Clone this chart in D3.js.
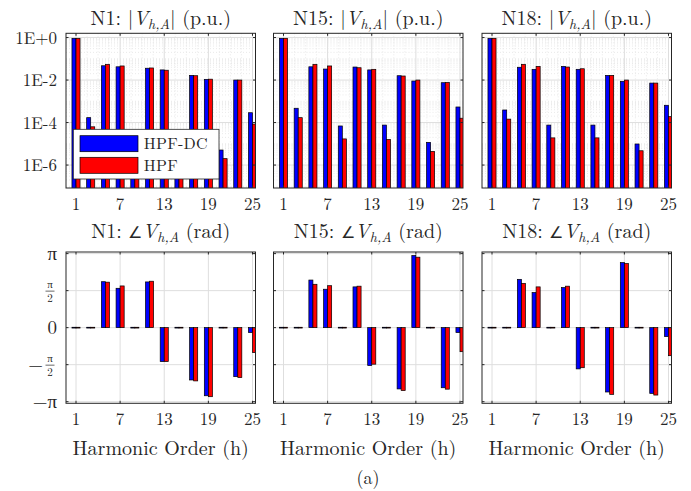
<!DOCTYPE html>
<html><head><meta charset="utf-8">
<script src="https://cdn.jsdelivr.net/npm/d3@7"></script>
<style>
body{margin:0;background:#fff}
svg{display:block}
</style>
</head><body><svg id="c" width="691" height="491"></svg>
<script>
// ---------------- data ----------------
const harmonics = [1,3,5,7,9,11,13,15,17,19,21,23,25];
const xTickValues = [1,7,13,19,25];
const nodes = ["N1","N15","N18"];
const seriesNames = ["HPF-DC","HPF"];
const seriesColors = ["#0000ff","#ff0000"];
const magTickValues = [1,1e-2,1e-4,1e-6];
const magTickLabels = ["1E+0","1E-2","1E-4","1E-6"];
const angTickValues = [Math.PI, Math.PI/2, 0, -Math.PI/2, -Math.PI];
const angTickLabels = [["","π",""],["","π","2"],["","0",""],["−","π","2"],["−","π",""]];

const magN1_DC   = [0.92,1.7e-4,0.047,0.042,3e-5,0.036,0.030,3e-5,0.0166,0.0108,5.1e-6,0.010,2.9e-4];
const magN1_HPF  = [0.92,6.3e-5,0.055,0.046,8e-6,0.037,0.029,8e-6,0.016,0.011,2.0e-6,0.010,8.5e-5];
const magN15_DC  = [0.92,4.7e-4,0.042,0.033,6.9e-5,0.041,0.030,7.6e-5,0.016,0.0090,1.17e-5,0.0075,5.4e-4];
const magN15_HPF = [0.92,1.7e-4,0.055,0.046,1.7e-5,0.038,0.032,1.6e-5,0.0155,0.0100,4.4e-6,0.0077,1.6e-4];
const magN18_DC  = [0.92,3.9e-4,0.040,0.032,7.6e-5,0.044,0.032,7.6e-5,0.0166,0.0087,9.8e-6,0.0072,6.5e-4];
const magN18_HPF = [0.92,1.45e-4,0.055,0.044,1.9e-5,0.041,0.034,1.9e-5,0.0166,0.0100,4.7e-6,0.0072,1.9e-4];

const angN1_DC   = [0,0,1.95,1.67,0,1.94,-1.44,0,-2.22,-2.89,0,-2.08,-0.21];
const angN1_HPF  = [0,0,1.93,1.77,0,1.97,-1.44,0,-2.26,-2.93,0,-2.12,-1.06];
const angN15_DC  = [0,0,2.02,1.63,0,1.73,-1.61,0,-2.60,3.06,0,-2.55,-0.21];
const angN15_HPF = [0,0,1.84,1.78,0,1.76,-1.55,0,-2.67,2.99,0,-2.61,-1.02];
const angN18_DC  = [0,0,2.05,1.49,0,1.70,-1.75,0,-2.73,2.76,0,-2.79,-0.38];
const angN18_HPF = [0,0,1.88,1.73,0,1.76,-1.70,0,-2.83,2.72,0,-2.86,-1.19];

const magData = [[magN1_DC,magN1_HPF],[magN15_DC,magN15_HPF],[magN18_DC,magN18_HPF]];
const angData = [[angN1_DC,angN1_HPF],[angN15_DC,angN15_HPF],[angN18_DC,angN18_HPF]];

// ---------------- layout ----------------
const svg = d3.select("#c");
const FONT = "Latin Modern Roman";
const panelLeft = [66, 273.5, 482];
const panelW = 189.5;
const top1 = 33.3, bot1 = 188;
const top2 = 252, bot2 = 403.3;
const barUnits = 0.55;
const axisColor = "#262626";
const gridColor = "#dedede";

function txt(g){ return g.append("text").attr("font-family",FONT).attr("fill",axisColor); }

function xScale(i){ return d3.scaleLinear().domain([-0.36, 25.41]).range([panelLeft[i], panelLeft[i]+panelW]); }
const yMag = d3.scaleLog().domain([Math.pow(10,-7.08), Math.pow(10,0.2)]).range([bot1, top1]);
const yAng = d3.scaleLinear().domain([-3.21, 3.21]).range([bot2, top2]);

function title(g, cx, cy, node, kind){
  const t = txt(g).attr("x",cx).attr("y",cy).attr("text-anchor","middle").attr("font-size",20);
  if(kind==="mag"){
    t.append("tspan").text(node+": |");
  } else {
    t.append("tspan").text(node+": ");
    t.append("tspan").attr("font-size",16).text("∠");
  }
  t.append("tspan").attr("font-style","italic").attr("font-size",20).text("V");
  t.append("tspan").attr("font-style","italic").attr("font-size",14).attr("dy",4).text("h,A");
  t.append("tspan").attr("dy",-4).attr("font-size",20).text(kind==="mag" ? "| (p.u.)" : " (rad)");
}

function frame(g, x, y0, y1, yTicks){
  const x0 = x.range()[0], x1 = x.range()[1];
  g.append("rect").attr("x",x0).attr("y",y0).attr("width",x1-x0).attr("height",y1-y0)
    .attr("fill","none").attr("stroke",axisColor).attr("stroke-width",1);
  xTickValues.forEach(v=>{
    g.append("line").attr("x1",x(v)).attr("x2",x(v)).attr("y1",y1).attr("y2",y1-2.5).attr("stroke",axisColor);
    g.append("line").attr("x1",x(v)).attr("x2",x(v)).attr("y1",y0).attr("y2",y0+2.5).attr("stroke",axisColor);
  });
  yTicks.forEach(py=>{
    g.append("line").attr("x1",x0).attr("x2",x0+2.5).attr("y1",py).attr("y2",py).attr("stroke",axisColor);
    g.append("line").attr("x1",x1).attr("x2",x1-2.5).attr("y1",py).attr("y2",py).attr("stroke",axisColor);
  });
  xTickValues.forEach(v=>{
    txt(g).attr("x",x(v)).attr("y",y1+21.5).attr("text-anchor","middle").attr("font-size",17).text(v);
  });
}

for(let i=0;i<3;i++){
  const x = xScale(i);
  const x0 = x.range()[0], x1 = x.range()[1];
  const cx = (x0+x1)/2;

  // ---------- magnitude panel ----------
  const gm = svg.append("g");
  const cidM = "clipM"+i;
  svg.append("clipPath").attr("id",cidM).append("rect").attr("x",x0).attr("y",top1).attr("width",panelW).attr("height",bot1-top1);
  const minorVals = [];
  for(let e=-8;e<=0;e++){ for(let m=1;m<=9;m++){ const v=m*Math.pow(10,e); if(v>yMag.domain()[0] && v<yMag.domain()[1] && !magTickValues.includes(v)) minorVals.push(v);} }
  gm.append("g").selectAll("line").data(minorVals).join("line")
    .attr("x1",x0).attr("x2",x1).attr("y1",d=>yMag(d)).attr("y2",d=>yMag(d))
    .attr("stroke","#e4e4e4").attr("stroke-dasharray","1,2").attr("stroke-width",0.8);
  const minorX = d3.range(1,26,1.5).filter(v=>!xTickValues.includes(v));
  gm.append("g").selectAll("line").data(minorX).join("line")
    .attr("x1",d=>x(d)).attr("x2",d=>x(d)).attr("y1",top1).attr("y2",bot1)
    .attr("stroke","#e4e4e4").attr("stroke-dasharray","1,2").attr("stroke-width",0.8);
  gm.append("g").selectAll("line").data(magTickValues).join("line")
    .attr("x1",x0).attr("x2",x1).attr("y1",d=>yMag(d)).attr("y2",d=>yMag(d)).attr("stroke",gridColor);
  gm.append("g").selectAll("line").data(xTickValues).join("line")
    .attr("x1",d=>x(d)).attr("x2",d=>x(d)).attr("y1",top1).attr("y2",bot1).attr("stroke",gridColor);
  const bm = gm.append("g").attr("clip-path","url(#"+cidM+")");
  magData[i].forEach((vals,s)=>{
    bm.append("g").selectAll("rect").data(harmonics.map((h,k)=>({h,v:vals[k]}))).join("rect")
      .attr("x",d=> s===0 ? x(d.h-barUnits) : x(d.h))
      .attr("width",d=> x(d.h+barUnits)-x(d.h))
      .attr("y",d=>yMag(d.v))
      .attr("height",d=>bot1+2-yMag(d.v))
      .attr("fill",seriesColors[s]).attr("stroke","#000").attr("stroke-width",0.7);
  });
  frame(gm, x, top1, bot1, magTickValues.map(v=>yMag(v)));
  title(gm, cx, 25, nodes[i], "mag");
  if(i===0){
    magTickValues.forEach((v,k)=>{
      txt(gm).attr("x",57).attr("y",yMag(v)+6).attr("text-anchor","end").attr("font-size",17).text(magTickLabels[k]);
    });
    const lg = gm.append("g");
    lg.append("rect").attr("x",73.3).attr("y",129.3).attr("width",145.7).attr("height",49.7)
      .attr("fill","#fff").attr("stroke",axisColor).attr("stroke-width",0.8);
    seriesNames.forEach((n,s)=>{
      lg.append("rect").attr("x",80).attr("y",135.7+s*21.6).attr("width",58).attr("height",16)
        .attr("fill",seriesColors[s]).attr("stroke","#000").attr("stroke-width",0.7);
      txt(lg).attr("x",143.7).attr("y",149+s*21.6).attr("font-size",16).attr("letter-spacing","0.3px").text(n);
    });
  }

  // ---------- angle panel ----------
  const ga = svg.append("g");
  const cidA = "clipA"+i;
  svg.append("clipPath").attr("id",cidA).append("rect").attr("x",x0).attr("y",top2).attr("width",panelW).attr("height",bot2-top2);
  ga.append("g").selectAll("line").data(angTickValues).join("line")
    .attr("x1",x0).attr("x2",x1).attr("y1",d=>yAng(d)).attr("y2",d=>yAng(d)).attr("stroke",gridColor);
  ga.append("g").selectAll("line").data(xTickValues).join("line")
    .attr("x1",d=>x(d)).attr("x2",d=>x(d)).attr("y1",top2).attr("y2",bot2).attr("stroke",gridColor);
  const ba = ga.append("g").attr("clip-path","url(#"+cidA+")");
  angData[i].forEach((vals,s)=>{
    ba.append("g").selectAll("rect").data(harmonics.map((h,k)=>({h,v:vals[k]}))).join("rect")
      .attr("x",d=> s===0 ? x(d.h-barUnits) : x(d.h))
      .attr("width",d=> x(d.h+barUnits)-x(d.h))
      .attr("y",d=> Math.min(yAng(d.v), yAng(0)) - (d.v===0?0.4:0))
      .attr("height",d=> Math.max(Math.abs(yAng(d.v)-yAng(0)),0.8))
      .attr("fill",seriesColors[s]).attr("stroke","#000").attr("stroke-width",0.7);
  });
  frame(ga, x, top2, bot2, angTickValues.map(v=>yAng(v)));
  title(ga, cx, 237.5, nodes[i], "ang");
  txt(ga).attr("x",cx).attr("y",455).attr("text-anchor","middle").attr("font-size",20).text("Harmonic Order (h)");
  if(i===0){
    angTickValues.forEach((v,k)=>{
      const [sgn,num,den] = angTickLabels[k];
      const py = yAng(v);
      if(den===""){
        txt(ga).attr("x",57).attr("y",py+6).attr("text-anchor","end").attr("font-size",19).text(sgn+num);
      } else {
        txt(ga).attr("x",50).attr("y",py-2.5).attr("text-anchor","middle").attr("font-size",11).text(num);
        ga.append("line").attr("x1",45.5).attr("x2",54.5).attr("y1",py+0.5).attr("y2",py+0.5).attr("stroke",axisColor).attr("stroke-width",0.7);
        txt(ga).attr("x",50).attr("y",py+11).attr("text-anchor","middle").attr("font-size",11).text(den);
        if(sgn) txt(ga).attr("x",43).attr("y",py+6).attr("text-anchor","end").attr("font-size",19).text(sgn);
      }
    });
  }
}
txt(svg).attr("x",368).attr("y",484).attr("text-anchor","middle").attr("font-size",18).text("(a)");
</script>
</body></html>
